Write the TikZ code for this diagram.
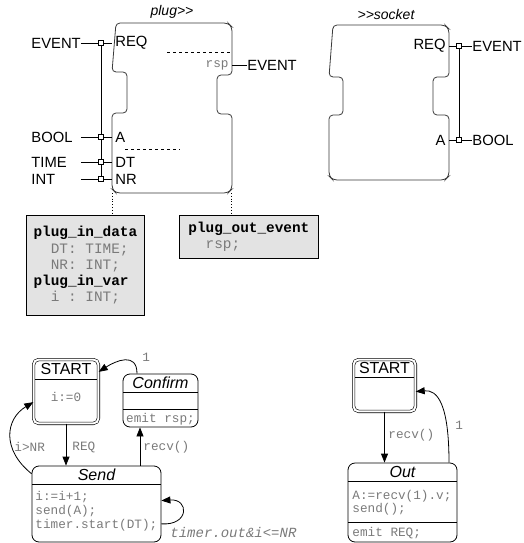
\documentclass[tikz,border=0pt]{standalone}
\usepackage{fontspec}
\setmainfont{Liberation Sans}
\setmonofont{Liberation Mono}
\usetikzlibrary{arrows.meta}

\definecolor{codegray}{HTML}{7A7A7A}
\definecolor{boxfill}{HTML}{E3E3E3}
\definecolor{linedark}{HTML}{3A3A3A}

\newcommand{\portfont}{\fontsize{14.8}{17}\selectfont}
\newcommand{\titlefont}{\fontsize{16}{18}\selectfont}
\newcommand{\codefont}{\fontsize{12.7}{14}\selectfont\ttfamily}
\newcommand{\infofont}{\fontsize{14.4}{16.3}\selectfont\ttfamily}

\begin{document}
\begin{tikzpicture}[x=1pt,y=-1pt,line width=0.8pt,
  port/.style={font=\portfont,inner sep=0pt},
  leftport/.style={port,anchor=west,text width=49pt,align=left},
  pin/.style={draw,fill=white,minimum size=5pt,inner sep=0pt,line width=1pt},
  code/.style={font=\codefont,text=codegray,inner sep=0pt},
  infobox/.style={draw,fill=boxfill,font=\infofont,align=left,anchor=north west,inner sep=0pt},
  startstate/.style={draw,double,double distance=2pt,line width=0.6pt,rounded corners=5pt},
  state/.style={draw,rounded corners=7pt,inner sep=0pt},
  trans/.style={-{Triangle[length=9pt,width=7pt]}}]
\useasboundingbox (0,0) rectangle (523,543);

\node[font=\fontsize{14}{16}\selectfont\itshape] (plugname) at (172,12) {plug>{}>};
\draw[draw=linedark,rounded corners=4pt] (116,23) -- (228,23) -- (232,27) -- (232,75) -- (217,75) -- (217,114) -- (232,114) -- (232,189) -- (228,193) -- (116,193) -- (112,189) -- (112,113) -- (127,113) -- (127,72) -- (112,72) -- cycle;

\node[leftport] (evin) at (31,43) {EVENT};
\node[leftport] (boolin) at (31,137) {BOOL};
\node[leftport] (timein) at (31,162) {TIME};
\node[leftport] (intin) at (31,179) {INT};
\node[pin] (preq) at (101,43) {};
\node[pin] (pa) at (101,137) {};
\node[pin] (pdt) at (101,162) {};
\node[pin] (pnr) at (101,179) {};
\node[port,anchor=west,inner xsep=3pt] (req) at (112,43) {REQ};
\node[port,anchor=west,inner xsep=3pt] (a) at (112,137) {A};
\node[port,anchor=west,inner xsep=3pt] (dt) at (112,162) {DT};
\node[port,anchor=west,inner xsep=3pt] (nr) at (112,179) {NR};
\draw (evin) -- (preq) -- (req);
\draw (boolin) -- (pa) -- (a);
\draw (timein) -- (pdt) -- (dt);
\draw (intin) -- (pnr) -- (nr);
\draw (preq) -- (pa) -- (pdt) -- (pnr);
\draw[dashed] (167,52) -- (231,52);
\draw[dashed] (125,149) -- (180,149);
\node[code,anchor=east,inner xsep=3pt] (rsp) at (232,65) {rsp};
\node[port,anchor=west] (evout) at (247,65) {EVENT};
\draw (rsp) -- (evout);

\node[font=\fontsize{14}{16}\selectfont\itshape] (socketname) at (386,14) {>{}>socket};
\draw[draw=linedark,rounded corners=4pt] (333,25) -- (445,25) -- (449,29) -- (449,77) -- (433,77) -- (433,115) -- (449,115) -- (449,176) -- (445,180) -- (333,180) -- (329,176) -- (329,115) -- (343,115) -- (343,77) -- (329,77) -- cycle;
\node[port,anchor=east,inner xsep=3pt] (sreq) at (449,46) {REQ};
\node[port,anchor=east,inner xsep=3pt] (sa) at (449,140) {A};
\node[pin] (spreq) at (459,46) {};
\node[pin] (spa) at (459,140) {};
\node[port,anchor=west] (sev) at (472,46) {EVENT};
\node[port,anchor=west] (sbool) at (472,140) {BOOL};
\draw (sreq) -- (spreq) -- (sev);
\draw (sa) -- (spa) -- (sbool);
\draw (spreq) -- (spa);

\node[infobox,minimum width=118pt,minimum height=100pt] (indata) at (26,215) {\textbf{plug\_in\_data}\\
\textcolor{codegray}{\hspace*{1.2em}DT: TIME;}\\
\textcolor{codegray}{\hspace*{1.2em}NR: INT;}\\
\textbf{plug\_in\_var}\\
\textcolor{codegray}{\hspace*{1.2em}i : INT;}};
\node[infobox,minimum width=139pt,minimum height=43pt] (outevent) at (179,215) {\textbf{plug\_out\_event}\\
\textcolor{codegray}{\hspace*{1.2em}rsp;}};
\coordinate (dl) at (112,193);
\coordinate (dr) at (231,193);
\draw[dotted] (dl) -- (dl |- indata.north);
\draw[dotted] (dr) -- (dr |- outevent.north);

\node[startstate,minimum width=64.8pt,minimum height=63.8pt] (lstart) at (66,391.5) {};
\node[font=\titlefont] (lstartname) at (66,369) {START};
\draw (35,379) -- (97,379);
\node[code] (lstartact) at (66,397) {i:=0};

\node[state,minimum width=75pt,minimum height=53pt] (confirm) at (160.5,400.5) {};
\node[font=\titlefont\itshape] (confirmname) at (160.5,383) {Confirm};
\draw (123,392) -- (198,392);
\draw (123,409) -- (198,409);
\node[code] (confirmexit) at (160.5,419) {emit rsp;};

\node[state,minimum width=129pt,minimum height=76pt] (send) at (96.5,504) {};
\node[font=\titlefont\itshape] (sendname) at (96.5,475) {Send};
\draw (32,484) -- (161,484);
\node[code,anchor=west,align=left] (sendact) at (35,511) {i:=i+1;\\send(A);\\timer.start(DT);};

\coordinate (cx) at (140,0);
\coordinate (cfx) at (137,0);
\draw[trans] (lstart.south) -- (lstart.south |- send.north);
\node[code,anchor=west] (reqlbl) at (72,447) {REQ};
\draw[trans] (send.north -| cx) -- (confirm.south -| cx);
\node[code,anchor=west] (recvlbl) at (143,447) {recv()};
\draw[trans] (send.155) .. controls +(-30,-24) and +(-28,17) .. (lstart.198);
\node[code,anchor=west] (nrlbl) at (14,447) {i>NR};
\draw[trans] (confirm.north -| cfx) .. controls +(0,-22) and +(17,-11) .. (lstart.31);
\node[code,anchor=west] (onelbl) at (142,357) {1};
\draw[trans] (send.-17) .. controls +(28,2) and +(28,-2) .. (send.3);
\node[code,font=\fontsize{14}{16}\selectfont\ttfamily\itshape,anchor=west] (looplbl) at (170,532) {timer.out\&i<=NR};

\node[startstate,minimum width=61.8pt,minimum height=51.8pt] (rstart) at (384.5,385.5) {};
\node[font=\titlefont] (rstartname) at (384.5,368) {START};
\draw (355,377) -- (414,377);

\node[state,minimum width=109pt,minimum height=79pt] (out) at (402.5,502.5) {};
\node[font=\titlefont\itshape] (outname) at (402.5,472) {Out};
\draw (348,481) -- (457,481);
\node[code,anchor=west,align=left,font=\fontsize{12.7}{13}\selectfont\ttfamily] (outact) at (352,502.5) {A:=recv(1).v;\\send();};
\draw (348,522) -- (457,522);
\node[code,anchor=west] (outexit) at (352,533) {emit REQ;};

\coordinate (ox) at (449,0);
\draw[trans] (rstart.south) -- (rstart.south |- out.north);
\node[code,anchor=west] (rrecvlbl) at (388,435) {recv()};
\draw[trans] (out.north -| ox) .. controls +(0,-58) and +(22,-2) .. (rstart.-11);
\node[code,anchor=west] (ronelbl) at (455,425) {1};
\end{tikzpicture}
\end{document}
